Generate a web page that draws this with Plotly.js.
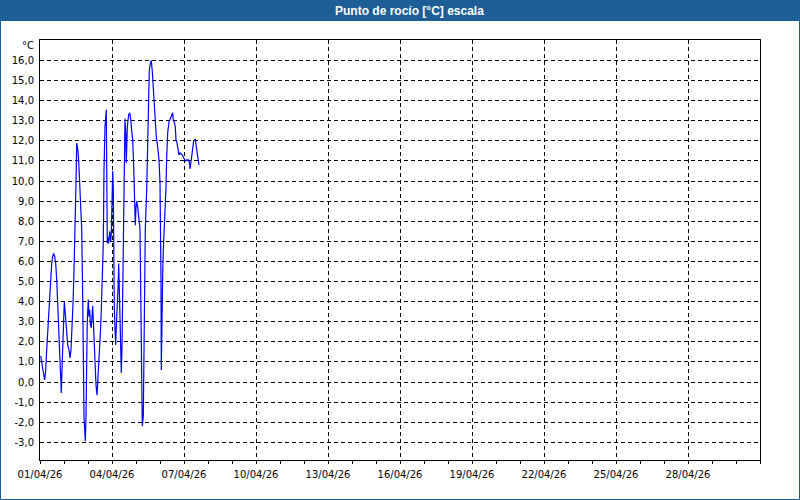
<!DOCTYPE html>
<html>
<head>
<meta charset="utf-8">
<script src="https://cdn.plot.ly/plotly-3.0.1.min.js"></script>
<style>html,body{margin:0;padding:0;background:#fff;}#chart{width:800px;height:500px;}</style>
</head>
<body>
<div id="chart"></div>
<script>
// Hours since 2026-04-01 00:00
const hours = [0.7,2,3.3,4.7,5.7,6.7,7.7,8.7,9.7,10.7,11.7,12.7,13.7,14.7,15.7,16.7,17.7,18.7,19.3,20,20.7,21.3,22,22.7,23.3,24.3,25,25.7,26.7,27.7,29,30,31,32,33,34,34.7,35,36,36.7,37.3,38,38.7,39.7,40.7,41.7,42.7,43.3,44,44.7,45.3,46,46.7,47.3,48.3,49,49.7,50.3,51.3,52,52.7,53.3,54.3,55.3,56,57,57.7,58.7,59.3,60,61,61.7,62.7,63.3,64,65,66.3,67,67.3,68,68.7,69.7,70.7,71.3,72,72.7,73.3,73.7,74.3,75,75.7,76.3,77,78,78.7,79.3,80,80.7,81.3,82,82.7,83.7,84.3,85,85.7,86.3,87.3,88.7,89.7,90.7,91.7,92.7,93.7,94.7,95.3,96,96.7,97.7,98.7,99.3,100,100.7,101.7,102.3,103.3,104,104.7,105.3,106.7,107.7,108.3,109.3,110.3,111.3,112.3,113.3,114.3,115.3,116.3,117.7,119,120,120.7,121,121.3,122,122.7,123.3,124.3,125,126,126.7,127.7,129,130.3,131.7,132.7,133.3,134.3,135.3,136,137,138,139,140,141.3,142.3,143.3,144.3,145.3,146.7,148.3,149.3,150,150.7,151.7,152.7,153.7,154.7,155.3,156.3,157.3,158,159];
const dewPoint = [1.3,0.75,0.5,0.1,0.6,1.6,2.6,3.4,4.25,5.4,5.9,6.25,6.4,6.25,5.9,5.1,4.1,2.95,1.95,1.1,0.25,-0.55,0.6,1.95,3.1,4.0,3.6,3.2,2.45,1.85,1.6,1.2,1.6,2.6,3.9,5.55,6.7,7.25,9.9,11.9,11.75,11.5,11.0,9.9,8.9,7.6,4.25,0.95,-1.7,-2.35,-2.95,-1.7,0.95,3.1,4.1,3.25,3.6,2.9,2.7,3.3,3.8,3.1,1.75,0.75,-0.15,-0.65,-0.1,1.1,1.1,2.1,3.1,4.25,5.6,6.9,10.55,12.7,13.55,10.05,6.9,7.2,6.9,7.5,7.0,7.4,8.75,10.5,9.6,5.9,3.75,2.6,1.85,2.8,3.45,4.6,5.9,4.6,2.6,1.3,0.45,1.75,4.4,6.7,10.4,13.1,12.4,10.9,12.7,13.3,13.4,13.1,12.5,12.05,10.7,8.8,7.8,8.7,9.0,8.7,8.3,8.1,7.6,4.6,0.95,-2.2,-1.7,1.0,5.1,7.6,9.6,11.7,14.2,15.5,15.85,16.0,15.45,14.5,13.5,12.8,12.2,11.7,11.05,9.9,7.7,5.1,0.6,4.6,5.4,6.6,7.6,8.75,9.7,11.2,12.4,12.95,13.1,13.3,13.4,13.0,12.95,12.7,12.05,11.9,11.55,11.3,11.4,11.35,11.3,11.2,11.1,11.0,11.05,11.05,10.95,10.6,10.85,11.3,11.7,12.0,12.05,12.1,11.7,11.3,11.05,10.8];

const yTickVals = [-3,-2,-1,0,1,2,3,4,5,6,7,8,9,10,11,12,13,14,15,16];
const yTickText = ["-3,0","-2,0","-1,0","0,0","1,0","2,0","3,0","4,0","5,0","6,0","7,0","8,0","9,0","10,0","11,0","12,0","13,0","14,0","15,0","16,0"];
const xTickVals = ["2026-04-01","2026-04-04","2026-04-07","2026-04-10","2026-04-13","2026-04-16","2026-04-19","2026-04-22","2026-04-25","2026-04-28"];
const xTickText = ["01/04/26","04/04/26","07/04/26","10/04/26","13/04/26","16/04/26","19/04/26","22/04/26","25/04/26","28/04/26"];
const titleText = "Punto de rocío [°C] escala";
const unitText = "°C";

const start = Date.UTC(2026,3,1,0,0,0);
const pad = n => String(n).padStart(2,'0');
const xs = hours.map(h => {
  const d = new Date(start + h*3600000);
  return d.getUTCFullYear()+'-'+pad(d.getUTCMonth()+1)+'-'+pad(d.getUTCDate())+' '+pad(d.getUTCHours())+':'+pad(d.getUTCMinutes())+':'+pad(d.getUTCSeconds());
});

const W = 800, H = 500, L = 40, R = 40, T = 40, B = 40;
const pw = W - L - R, ph = H - T - B;
const px = x => (x - L) / pw;
const py = y => (H - B - y) / ph;

const font = "'DejaVu Sans', Tahoma, sans-serif";
const blue = '#1d5e96';

const trace = {
  x: xs, y: dewPoint, type: 'scatter', mode: 'lines',
  line: {color: '#0000ff', width: 1.2}, hoverinfo: 'skip', showlegend: false
};

const layout = {
  width: W, height: H,
  margin: {l: L, r: R, t: T, b: B, pad: 0},
  paper_bgcolor: '#ffffff', plot_bgcolor: '#ffffff',
  font: {family: font, size: 10, color: '#000'},
  showlegend: false,
  xaxis: {
    type: 'date', range: ['2026-04-01', '2026-05-01'],
    tickmode: 'array', tickvals: xTickVals, ticktext: xTickText,
    ticks: 'outside', ticklen: 3, tickcolor: '#000', tickwidth: 1,
    minor: {dtick: 86400000, tick0: '2026-04-01', ticks: 'outside', ticklen: 3, tickcolor: '#000', showgrid: false},
    showgrid: true, gridcolor: '#000', gridwidth: 1, griddash: '4px,3px',
    showline: true, linecolor: '#000', linewidth: 1, mirror: true,
    zeroline: false, tickfont: {family: font, size: 10, color: '#000'}, ticklabelstandoff: 2,
    fixedrange: true
  },
  yaxis: {
    range: [-3.88, 17.02],
    tickmode: 'array', tickvals: yTickVals, ticktext: yTickText,
    ticks: '', showgrid: true, gridcolor: '#000', gridwidth: 1, griddash: '4px,3px',
    showline: true, linecolor: '#000', linewidth: 1, mirror: true,
    zeroline: false, tickfont: {family: font, size: 10, color: '#000'}, ticklabelstandoff: 3,
    fixedrange: true
  },
  shapes: [
    {type: 'rect', xref: 'paper', yref: 'paper', x0: px(0), x1: px(800), y0: py(21), y1: py(0), fillcolor: blue, line: {width: 0}, layer: 'below'},
    {type: 'rect', xref: 'paper', yref: 'paper', x0: px(0.5), x1: px(799.5), y0: py(499.5), y1: py(0.5), line: {color: blue, width: 1}, fillcolor: 'rgba(0,0,0,0)'}
  ],
  annotations: [
    {text: '<b>' + titleText + '</b>', xref: 'paper', yref: 'paper', x: px(410), y: py(10.5), xanchor: 'center', yanchor: 'middle', showarrow: false, font: {family: "'Liberation Sans', Arial, sans-serif", size: 12, color: '#ffffff'}},
    {text: unitText, xref: 'paper', yref: 'paper', x: px(36), y: py(46), xanchor: 'right', yanchor: 'middle', showarrow: false, font: {family: font, size: 10, color: '#000'}}
  ]
};

Plotly.newPlot('chart', [trace], layout, {staticPlot: true, displayModeBar: false});
</script>
</body>
</html>
